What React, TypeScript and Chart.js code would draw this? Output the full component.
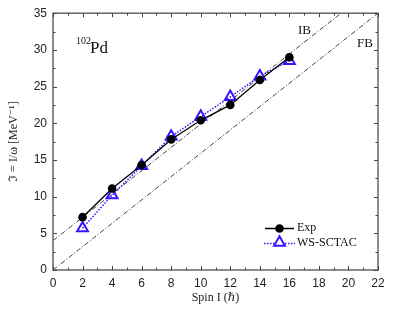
import React, { useEffect, useRef } from "react";
import { Chart, registerables } from "chart.js";

Chart.register(...registerables);

const spins = [2, 4, 6, 8, 10, 12, 14, 16];
const expValues = [7.2, 11.1, 14.3, 17.8, 20.4, 22.5, 25.9, 29.0];
const wsValues = [5.7, 10.2, 14.2, 18.2, 20.9, 23.6, 26.4, 28.5];
const ibX = [0, 19.5];
const ibY = [4, 35];
const fbX = [0, 22];
const fbY = [0, 35];
const xTicks = [0, 2, 4, 6, 8, 10, 12, 14, 16, 18, 20, 22];
const yTicks = [0, 5, 10, 15, 20, 25, 30, 35];

const BLUE = "#3d12ff";
const FRAME = "#666666";
const SANS = "Liberation Sans";

const decorPlugin = {
  id: "decor",
  afterDraw(chart: any) {
    const { ctx, chartArea: ca, scales } = chart;
    const xs = scales.x;
    const ys = scales.y;
    ctx.save();
    // frame
    ctx.strokeStyle = FRAME;
    ctx.lineWidth = 1.5;
    ctx.strokeRect(ca.left, ca.top, ca.right - ca.left, ca.bottom - ca.top);
    // inward ticks
    ctx.lineWidth = 1;
    ctx.strokeStyle = "#444";
    for (let v = 0; v <= 22; v += 1) {
      const px = Math.round(xs.getPixelForValue(v)) + 0.5;
      const len = v % 2 === 0 ? 4 : 2.5;
      ctx.beginPath();
      ctx.moveTo(px, ca.bottom);
      ctx.lineTo(px, ca.bottom - len);
      ctx.moveTo(px, ca.top);
      ctx.lineTo(px, ca.top + len);
      ctx.stroke();
    }
    for (let v = 0; v <= 35; v += 2.5) {
      const py = Math.round(ys.getPixelForValue(v)) + 0.5;
      const len = v % 5 === 0 ? 4 : 2.5;
      ctx.beginPath();
      ctx.moveTo(ca.left, py);
      ctx.lineTo(ca.left + len, py);
      ctx.moveTo(ca.right, py);
      ctx.lineTo(ca.right - len, py);
      ctx.stroke();
    }
    // axis titles
    ctx.fillStyle = "#222";
    ctx.textBaseline = "middle";
    ctx.textAlign = "center";
    ctx.font = "12px 'Liberation Serif', 'DejaVu Serif', serif";
    ctx.fillText("Spin I (\u210F)", (ca.left + ca.right) / 2, 298);
    ctx.save();
    ctx.translate(14, (ca.top + ca.bottom) / 2);
    ctx.rotate(-Math.PI / 2);
    ctx.fillText("\u2111 = I/\u03C9 [MeV\u207B\u00B9]", 0, 0);
    ctx.restore();
    // nucleus label
    ctx.textAlign = "left";
    ctx.textBaseline = "alphabetic";
    ctx.fillStyle = "#111";
    ctx.font = "10px 'Liberation Serif', serif";
    ctx.fillText("102", 76, 44);
    ctx.font = "17px 'Liberation Serif', serif";
    ctx.fillText("Pd", 90, 53);
    // IB / FB
    ctx.font = "13px 'Liberation Serif', serif";
    ctx.fillText("IB", 298, 34);
    ctx.fillText("FB", 357, 47);
    // legend
    ctx.strokeStyle = "#000";
    ctx.lineWidth = 1.5;
    ctx.setLineDash([]);
    ctx.beginPath();
    ctx.moveTo(265, 228.5);
    ctx.lineTo(294, 228.5);
    ctx.stroke();
    ctx.fillStyle = "#000";
    ctx.beginPath();
    ctx.arc(279.5, 228.5, 4.3, 0, Math.PI * 2);
    ctx.fill();
    ctx.strokeStyle = BLUE;
    ctx.lineWidth = 1.5;
    ctx.setLineDash([1.5, 1.5]);
    ctx.beginPath();
    ctx.moveTo(264, 243.5);
    ctx.lineTo(295, 243.5);
    ctx.stroke();
    ctx.setLineDash([]);
    ctx.lineWidth = 2;
    const r = 6.3;
    const cx = 279.5;
    const cy = 242.5;
    ctx.fillStyle = "#fff";
    ctx.beginPath();
    for (let i = 0; i < 3; i++) {
      const a = (i * 2 * Math.PI) / 3;
      const px = cx + Math.sin(a) * r;
      const py = cy - Math.cos(a) * r;
      if (i === 0) ctx.moveTo(px, py);
      else ctx.lineTo(px, py);
    }
    ctx.closePath();
    ctx.fill();
    ctx.stroke();
    ctx.fillStyle = "#111";
    ctx.font = "12px 'Liberation Serif', serif";
    ctx.textBaseline = "middle";
    ctx.fillText("Exp", 297, 228);
    ctx.fillText("WS-SCTAC", 297, 243);
    ctx.restore();
  },
};

export default function App() {
  const ref = useRef<HTMLCanvasElement>(null);
  useEffect(() => {
    document.body.style.margin = "0";
    const canvas = ref.current!;
    const toXY = (xsArr: number[], ysArr: number[]) =>
      xsArr.map((x, i) => ({ x, y: ysArr[i] }));
    const chart = new Chart(canvas, {
      type: "scatter",
      data: {
        datasets: [
          {
            label: "Exp",
            data: toXY(spins, expValues),
            showLine: true,
            borderColor: "#000",
            borderWidth: 1.3,
            pointStyle: "circle",
            pointRadius: 4.3,
            pointBorderWidth: 0,
            pointBackgroundColor: "#000",
          },
          {
            label: "WS-SCTAC",
            data: toXY(spins, wsValues),
            showLine: true,
            borderColor: BLUE,
            borderWidth: 1.5,
            borderDash: [1.5, 1.5],
            pointStyle: "triangle",
            pointRadius: 6.3,
            pointBorderWidth: 2,
            pointBorderColor: BLUE,
            pointBackgroundColor: "rgba(255,255,255,0)",
          },
          {
            label: "IB",
            data: toXY(ibX, ibY),
            showLine: true,
            borderColor: "#444",
            borderWidth: 1,
            borderDash: [5, 2, 1, 2],
            pointRadius: 0,
          },
          {
            label: "FB",
            data: toXY(fbX, fbY),
            showLine: true,
            borderColor: "#444",
            borderWidth: 1,
            borderDash: [5, 2, 1, 2],
            pointRadius: 0,
          },
        ],
      },
      options: {
        responsive: false,
        animation: false,
        font: { family: SANS },
        layout: { padding: { left: 0, top: 13, right: 38, bottom: 0 } },
        plugins: {
          legend: { display: false },
          tooltip: { enabled: false },
        },
        scales: {
          x: {
            type: "linear",
            min: 0,
            max: 22,
            afterFit: (s: any) => {
              s.height = 46;
            },
            afterBuildTicks: (s: any) => {
              s.ticks = xTicks.map((v) => ({ value: v }));
            },
            grid: { display: false, drawTicks: false },
            border: { display: false },
            ticks: {
              padding: 6,
              color: "#222",
              font: { family: SANS, size: 12 },
              maxRotation: 0,
            },
          },
          y: {
            type: "linear",
            min: 0,
            max: 35,
            afterFit: (s: any) => {
              s.width = 53;
            },
            afterBuildTicks: (s: any) => {
              s.ticks = yTicks.map((v) => ({ value: v }));
            },
            grid: { display: false, drawTicks: false },
            border: { display: false },
            ticks: {
              padding: 6,
              color: "#222",
              font: { family: SANS, size: 12 },
            },
          },
        },
      },
      plugins: [decorPlugin],
    } as any);
    return () => chart.destroy();
  }, []);
  return (
    <div style={{ width: 416, height: 316, background: "#fff" }}>
      <canvas ref={ref} width={416} height={316} style={{ display: "block" }} />
    </div>
  );
}
